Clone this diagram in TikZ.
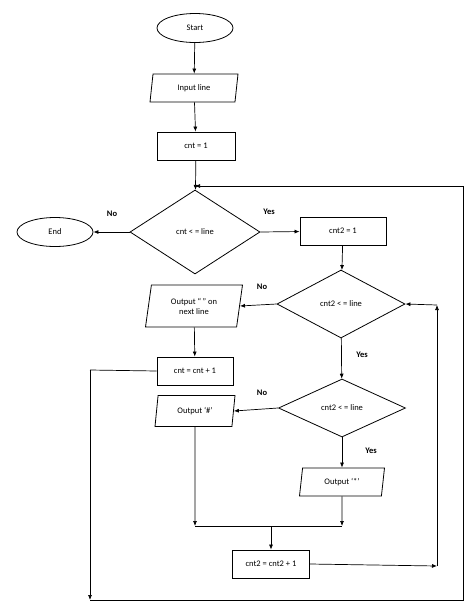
\documentclass[tikz,border=0pt]{standalone}
\usepackage{fontspec}
\setmainfont{Carlito}
\usetikzlibrary{shapes.geometric,arrows.meta}
\begin{document}
\begin{tikzpicture}[x=1pt,y=-1pt,
  every node/.style={font=\fontsize{8.5}{10}\selectfont},
  base/.style={draw,line width=0.8pt,inner sep=1pt,align=center},
  term/.style={base,ellipse,minimum width=76,minimum height=29},
  proc/.style={base,rectangle,minimum width=78,minimum height=28},
  io/.style={base,trapezium,trapezium left angle=72,trapezium right angle=108,trapezium stretches body,minimum height=28},
  dec/.style={base,diamond,inner sep=0pt},
  lab/.style={font=\bfseries\fontsize{8.5}{10}\selectfont},
  arr/.style={-{Latex[length=5pt,width=4pt]},line width=0.7pt},
  ln/.style={line width=0.7pt}]
\useasboundingbox (0,0) rectangle (474,606);
\node[term] (start) at (195,28) {Start};
\node[io,minimum width=88] (in) at (194,88) {Input line};
\node[proc] (c1) at (196,146) {cnt = 1};
\node[dec,minimum width=130,minimum height=84] (d1) at (195,232) {cnt < = line};
\node[term] (end) at (55,232) {End};
\node[proc,minimum width=86] (c21) at (343,231) {cnt2 = 1};
\node[dec,minimum width=128,minimum height=68] (d2) at (341,304) {cnt2 < = line};
\node[io,minimum width=97,minimum height=42] (o1) at (194,306) {Output ``\,'' on\\next line};
\node[proc,minimum width=76] (inc) at (195,371) {cnt = cnt + 1};
\node[dec,minimum width=127,minimum height=58] (d3) at (342,408) {cnt2 < = line};
\node[io,minimum width=80,minimum height=31] (oh) at (195,411) {Output `\#'};
\node[io,minimum width=85,minimum height=28] (os) at (342,482) {Output `*'};
\node[proc,minimum width=77] (inc2) at (271,564) {cnt2 = cnt2 + 1};
\coordinate (m1) at (195,526);
\coordinate (m2) at (342,526);
\coordinate (m3) at (271,526);
\coordinate (lp1) at (90,370);
\coordinate (lp2) at (90,600);
\coordinate (lp3) at (463,600);
\coordinate (lp4) at (463,186);
\coordinate (lp5) at (195,186);
\coordinate (r1) at (437,566);
\coordinate (r2) at (437,305);
\draw[arr] (start) -- (in);
\draw[arr] (in) -- (c1);
\draw[arr] (c1) -- (d1);
\draw[arr] (d1.west) -- (end);
\draw[arr] (d1.east) -- (c21);
\draw[arr] (c21) -- (d2);
\draw[arr] (d2.west) -- (o1.east);
\draw[arr] (o1) -- (inc);
\draw[arr] (d2) -- (d3);
\draw[arr] (d3.west) -- (oh.east);
\draw[arr] (d3) -- (os);
\draw[arr] (oh.south) -- (m1);
\draw[arr] (os.south) -- (m2);
\draw[ln] (m1) -- (m2);
\draw[arr] (m3) -- (inc2);
\draw[arr] (inc2.east) -- (r1);
\draw[arr] (r1) -- (r2);
\draw[arr] (r2) -- (d2.east);
\draw[ln] (inc.west) -- (lp1);
\draw[arr] (lp1) -- (lp2);
\draw[ln] (lp2) -- (lp3) -- (lp4);
\draw[arr] (lp4) -- (lp5);
\node[lab] (n1) at (112,214) {No};
\node[lab] (y1) at (269,212) {Yes};
\node[lab] (n2) at (262,287) {No};
\node[lab] (y2) at (362,355) {Yes};
\node[lab] (n3) at (262,393) {No};
\node[lab] (y3) at (371,451) {Yes};
\end{tikzpicture}
\end{document}
